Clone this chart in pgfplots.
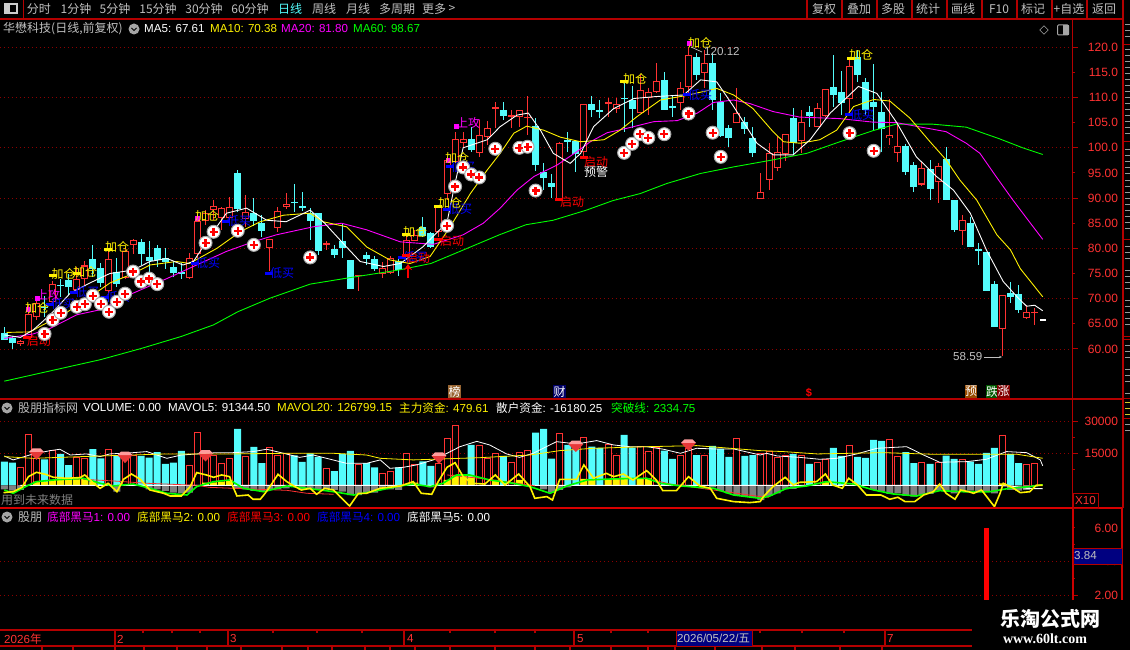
\documentclass[border=0pt]{standalone}
\usepackage{fontspec}
\setmainfont{Liberation Sans}
\newfontfamily\cjk{Noto Sans CJK SC}
\usepackage{pgfplots}
\usepackage{pgfplotstable}
\pgfplotsset{compat=1.18}
\usetikzlibrary{arrows.meta}

\definecolor{upred}{HTML}{FF3232}
\definecolor{downcy}{HTML}{54FCFC}
\definecolor{axred}{HTML}{B40000}
\definecolor{gridred}{HTML}{8C0000}
\definecolor{txt}{HTML}{C0C0C0}
\definecolor{ma20}{HTML}{FF00FF}
\definecolor{ma60}{HTML}{00FF00}
\definecolor{gemred}{HTML}{E83838}
\definecolor{gempink}{HTML}{FF9C9C}

% candles: index, body top, body bottom, high, low
\pgfplotstableread{
i top bot h l
2 61.6 61.0 61.8 60.5
3 67.0 62.1 68.7 62.1
4 69.1 66.3 70.4 65.8
6 72.9 69.4 73.5 68.7
9 74.0 71.7 76.4 71.1
10 76.6 74.0 77.5 72.7
13 77.8 71.6 79.7 70.7
15 79.5 74.2 80.0 74.0
16 81.7 80.7 81.8 78.9
23 78.0 74.2 79.0 74.0
24 85.4 78.9 87.0 78.0
25 87.0 85.5 87.6 84.7
26 88.5 87.6 89.6 85.6
27 88.0 86.0 88.3 83.7
28 88.3 86.0 90.3 85.6
30 87.3 85.8 90.6 84.3
33 81.9 80.0 81.9 75.6
34 87.5 84.1 88.3 83.3
35 88.9 88.3 91.1 87.9
40 81.0 80.7 81.5 79.7
44 74.8 74.6 74.8 71.6
47 76.2 74.9 77.2 74.2
48 78.0 75.2 78.4 75.0
50 81.7 78.7 82.7 78.7
51 82.7 81.5 83.7 81.5
54 88.3 83.2 88.6 82.3
55 97.6 90.9 97.9 89.6
56 101.7 97.2 103.2 96.9
57 101.7 100.9 103.2 99.9
59 102.5 98.9 105.5 98.2
60 104.0 102.1 105.4 100.6
61 108.2 107.8 109.2 104.0
63 106.5 106.1 107.5 103.9
64 107.5 106.1 107.5 104.2
65 106.2 105.9 110.3 102.5
69 100.9 89.8 101.2 89.8
72 108.7 99.2 108.7 97.7
75 109.2 108.8 109.8 106.2
76 108.7 107.8 109.8 106.9
79 111.5 107.0 114.5 106.9
80 111.0 109.8 111.8 106.5
81 113.2 111.0 116.8 110.9
84 111.8 109.0 113.1 107.5
85 118.5 112.0 120.12 110.5
87 116.8 114.8 119.5 111.8
91 106.9 105.0 111.8 104.9
94 91.3 89.8 94.9 89.8
95 98.9 93.5 100.9 91.6
96 99.2 95.9 102.3 95.3
97 102.7 98.7 102.7 97.4
99 105.1 101.4 107.6 98.9
101 108.0 104.2 109.0 104.2
102 111.6 106.4 111.6 106.2
105 116.2 109.6 118.1 107.2
110 102.5 101.9 109.6 100.6
111 100.3 99.0 104.9 97.2
114 95.9 92.7 97.1 92.4
116 96.3 93.1 96.9 89.0
119 85.6 83.5 86.6 80.7
124 70.7 63.9 70.7 58.59
127 67.3 66.1 68.7 66.0
128 67.4 67.2 68.1 64.8
}\candlesup

\pgfplotstableread{
i top bot h l
0 63.2 61.7 64.3 61.7
1 62.1 61.1 62.6 60.0
5 68.4 68.2 70.5 66.4
7 72.8 72.6 74.0 70.4
8 73.7 72.3 75.0 70.7
11 77.9 76.0 80.7 74.4
12 76.1 73.1 77.0 72.4
14 75.4 72.9 78.0 72.4
17 81.3 78.9 81.9 76.7
18 78.2 77.5 81.5 75.4
19 80.0 77.7 80.7 76.4
20 78.0 77.2 80.0 76.0
21 76.3 75.2 77.4 74.4
22 75.3 75.1 77.0 74.0
29 94.9 87.8 95.6 87.3
31 87.0 85.5 90.0 84.5
32 85.0 83.5 86.6 82.2
36 89.3 89.1 92.8 87.3
37 88.4 88.2 91.2 87.4
38 87.0 85.5 88.0 81.7
39 87.0 79.4 87.0 78.7
41 79.8 78.6 80.7 78.0
42 81.5 80.1 84.9 78.0
43 77.7 72.0 77.7 72.0
45 78.7 77.9 79.2 76.7
46 77.8 76.0 78.5 75.6
49 77.4 75.7 78.0 74.5
52 84.3 82.4 86.3 82.3
53 83.0 80.3 83.3 80.0
58 101.7 99.6 104.2 99.2
62 107.5 106.3 109.2 105.6
66 104.3 96.6 105.9 95.3
67 95.1 93.9 96.9 91.6
68 92.9 92.3 94.8 90.0
70 101.5 101.3 103.2 99.2
71 101.4 98.8 101.6 95.1
73 108.8 107.5 110.2 106.1
74 107.5 107.3 109.5 105.9
77 109.9 109.7 113.1 103.2
78 109.5 107.8 112.2 103.9
82 113.5 107.6 115.0 107.5
83 108.3 108.1 110.2 106.1
86 118.1 114.5 118.8 113.5
88 116.9 109.5 118.8 107.5
89 109.1 102.3 110.9 102.2
90 103.9 101.9 104.5 100.1
92 105.1 103.7 106.2 102.7
93 101.9 99.0 104.1 98.2
98 105.9 100.9 108.0 98.6
100 107.1 106.3 108.3 104.2
103 112.0 110.4 118.5 108.2
104 111.1 108.9 115.3 106.5
106 118.0 114.5 119.4 113.1
107 113.1 107.5 113.8 106.5
108 109.1 108.2 116.7 103.5
109 107.1 103.7 111.0 99.2
112 100.4 95.1 100.8 94.6
113 96.6 92.3 97.1 91.3
115 95.8 91.8 97.6 89.6
117 97.8 89.6 100.1 89.6
118 89.6 83.7 89.6 83.3
120 85.0 80.3 86.3 80.2
121 79.8 79.6 81.0 76.7
122 79.2 71.5 79.2 71.5
123 72.9 64.4 73.5 64.4
125 71.1 70.3 73.3 69.2
126 70.9 67.8 72.7 67.2
}\candlesdown

\pgfplotstableread{
i v
5 63.0
6 65.8
7 67.2
9 68.4
10 68.9
11 70.6
12 69.0
13 67.4
14 69.4
15 71.0
16 75.4
17 73.4
18 74.0
19 72.9
25 81.1
26 83.3
29 83.5
31 80.7
38 78.2
55 84.5
56 92.3
57 96.1
58 94.7
59 94.1
61 99.8
64 100.0
65 100.2
66 91.5
77 99.0
78 100.8
79 102.7
80 102.0
82 102.7
85 106.8
88 103.0
89 98.2
105 102.9
108 99.4
}\buysig

% volume bars
\pgfplotstableread{
i v
2 8400
3 23900
4 12700
6 16250
9 13000
10 12650
13 16550
15 11900
16 13750
23 9500
24 24850
25 14700
26 14200
27 10300
28 12650
30 13600
33 17800
34 14200
35 14700
40 8000
44 9850
47 5600
48 6700
50 14700
51 9850
54 10300
55 22050
56 28100
57 5150
59 18450
60 12350
61 14700
63 10800
64 15600
65 16100
69 24400
72 22500
75 18900
76 13750
79 18100
80 15950
81 17500
84 13750
85 17350
87 13750
91 22050
94 14700
95 15800
96 13100
97 13750
99 13900
101 10800
102 11900
105 18750
110 21550
111 13600
114 10800
116 10800
119 12200
124 23450
127 9850
128 10300
}\volup

\pgfplotstableread{
i v
0 11100
1 10600
5 12200
7 14700
8 9500
11 17000
12 12650
14 14200
17 13750
18 13000
19 15600
20 10000
21 10600
22 16100
29 26400
31 18000
32 10450
36 14050
37 10950
38 15000
39 13300
41 6700
42 14700
43 16100
45 10450
46 8450
49 8450
52 11250
53 9050
58 18900
62 13750
66 24700
67 26400
68 12500
70 18900
71 17350
73 18100
74 17500
77 23600
78 17650
82 16250
83 12350
86 14200
88 18450
89 17050
90 13300
92 13750
93 14200
98 14700
100 10000
103 17500
104 13750
106 13300
107 12800
108 21250
109 20800
112 15600
113 10450
115 10000
117 13900
118 12350
120 11100
121 10000
122 15150
123 17500
125 14700
126 10450
}\voldown

\pgfplotsset{
  panel/.style={
    scale only axis, width=1072.5pt,
    xmin=-0.534, xmax=132.70, xtick=\empty,
    axis x line=none, axis y line=right,
    axis line style={-, color=axred, line width=1.2pt},
    tick style={color=axred, line width=1pt},
    tick align=outside, major tick length=5pt,
    scaled y ticks=false,
    ymajorgrids,
    grid style={color=gridred, line width=.8pt, dash pattern=on 1pt off 3pt},
    yticklabel style={text=upred, font=\fontsize{12}{12}\selectfont, anchor=east, xshift=44pt},
    extra y tick style={grid=none, major tick length=2pt,
      yticklabel style={xshift=3pt}},
  },
  overlay/.style={
    scale only axis, width=1072.5pt, hide axis,
    xmin=-0.534, xmax=132.70,
  },
  wick/.style={draw=none, no marks, forget plot,
    error bars/.cd, y dir=both, y explicit,
    error mark=none, error bar style={color=#1, line width=1pt, solid}},
  body/.style 2 args={draw=none, no marks, forget plot,
    error bars/.cd, y dir=both, y explicit,
    error mark=none, error bar style={color=#1, line width=#2, solid}},
}

\pgfdeclareplotmark{gem}{%
  \pgfsetfillcolor{gemred}%
  \pgfpathmoveto{\pgfqpoint{-7.5pt}{1.5pt}}%
  \pgfpathlineto{\pgfqpoint{7.5pt}{1.5pt}}%
  \pgfpathlineto{\pgfqpoint{0pt}{-6.5pt}}%
  \pgfpathclose\pgfusepathqfill
  \pgfsetfillcolor{gempink}%
  \pgfpathmoveto{\pgfqpoint{-7.5pt}{1.5pt}}%
  \pgfpathlineto{\pgfqpoint{-4pt}{5pt}}%
  \pgfpathlineto{\pgfqpoint{4pt}{5pt}}%
  \pgfpathlineto{\pgfqpoint{7.5pt}{1.5pt}}%
  \pgfpathclose\pgfusepathqfill
}

% 1 unit of the picture is one pixel of the reference, y running down
\newcommand{\tx}[4]{\node[text=#3, inner sep=0pt, font=\fontsize{12}{12}\selectfont\cjk] at (#1pt,-#2pt) {#4};}
\newcommand{\ltx}[4]{\node[text=#3, inner sep=0pt, anchor=west, font=\fontsize{11.6}{12}\selectfont] at (#1pt,-#2pt) {#4};}
\newcommand{\dsh}[3]{\fill[#3] (#1pt-4pt,-#2pt-1.5pt) rectangle (#1pt+4pt,-#2pt+1.5pt);}
\newcommand{\sq}[3]{\fill[#3] (#1pt-2.5pt,-#2pt-2.5pt) rectangle (#1pt+2.5pt,-#2pt+2.5pt);}
\newcommand{\arrowicon}[2]{\fill[gray!70] (#1pt,-#2pt) circle (5.5pt);
  \draw[black, line width=.9pt] (#1pt-2.5pt,-#2pt+1pt) -- (#1pt,-#2pt-1.5pt) -- (#1pt+2.5pt,-#2pt+1pt);}
\newcommand{\jc}[4]{\dsh{#1}{#2}{yellow}\tx{#3}{#4}{yellow}{加仓}}
\newcommand{\jcm}[4]{\sq{#1}{#2}{ma20}\tx{#3}{#4}{yellow}{加仓}}
\newcommand{\dm}[2]{\dsh{\the\numexpr#1-13\relax}{#2}{blue}\tx{#1}{#2}{blue}{低买}}
\newcommand{\qd}[4]{\dsh{#1}{#2}{red}\tx{#3}{#4}{red}{启动}}

\begin{document}
\begin{tikzpicture}[x=1pt, y=1pt]
\fill[black] (0pt,0pt) rectangle (1130pt,-650pt);
\path[use as bounding box] (0pt,0pt) rectangle (1130pt,-650pt);

% price panel
\begin{axis}[panel, at={(0pt,-399pt)}, anchor=south west, height=380pt,
    ymin=50.06, ymax=125.6,
    ytick={60,70,80,90,100,110,120},
    yticklabels={60.00,70.00,80.00,90.00,100.0,110.0,120.0},
    extra y ticks={65,75,85,95,105,115},
    extra y tick labels={65.00,75.00,85.00,95.00,105.0,115.0},
  ]
  \addplot[wick=upred] table[x=i, y expr=(\thisrow{h}+\thisrow{l})/2, y error expr=(\thisrow{h}-\thisrow{l})/2] {\candlesup};
  \addplot[wick=downcy] table[x=i, y expr=(\thisrow{h}+\thisrow{l})/2, y error expr=(\thisrow{h}-\thisrow{l})/2] {\candlesdown};
  \addplot[body={downcy}{7pt}] table[x=i, y expr=(\thisrow{top}+\thisrow{bot})/2, y error expr=(\thisrow{top}-\thisrow{bot})/2] {\candlesdown};
  \addplot[body={upred}{7pt}] table[x=i, y expr=(\thisrow{top}+\thisrow{bot})/2, y error expr=(\thisrow{top}-\thisrow{bot})/2] {\candlesup};
  \addplot[body={black}{5pt}] table[x=i, y expr=(\thisrow{top}+\thisrow{bot})/2, y error expr={max((\thisrow{top}-\thisrow{bot})/2-0.2,0)}] {\candlesup};
  % last day, no trade yet
  \addplot[body={white}{6pt}] coordinates {(129,65.8) +- (0,0.1)};

  % MA60
  \addplot[ma60, line width=.9pt] coordinates {
    (0,53.6)(12,57.9)(17,60.1)(22,62.5)(26,64.8)(29,67.4)(33,70.1)(38,72.9)(43,74.2)(49,75.7)(53,77)
    (56.6,79.4)(61.5,82.7)(64.8,84.7)(68.2,85.6)(72.3,87.6)(75.6,89.5)(79,90.9)(82.3,92.9)(86.5,94.9)
    (90.6,96.2)(95.5,97.6)(99.7,98.9)(103.8,101.2)(107.9,103.4)(110.8,104.7)(115.3,104.7)(119.5,104.1)
    (123.6,101.8)(126.5,100.0)(129,98.67)};
  % MA20
  \addplot[ma20, line width=.9pt] coordinates {
    (0,62.1)(3.6,63.0)(5.7,64.1)(9,66.8)(11.9,67.8)(16,71.1)(20.2,74)(24.3,77)(27.6,79.4)(30.9,81.3)
    (33.8,82.7)(38.4,84.3)(41.9,85)(45,83.7)(49.2,81.3)(53.3,80.8)(57,82.7)(59.5,85)(61.6,88)(63.7,91.6)
    (65.8,94.3)(68.7,96.6)(71.1,99.2)(72.8,101.2)(74.9,103)(77.4,103.9)(80.7,105.2)(83.6,105.4)(86.1,106.9)
    (88.1,109)(90.6,109.5)(92.6,108.8)(95.5,107.2)(98.8,106.1)(103.8,105.8)(107.9,105.1)(110.8,105)
    (114.6,103.9)(117,103.2)(119.5,100.9)(121.2,98.9)(123.2,94.3)(125.3,89.6)(127,86)(129,81.8)};
  % MA10
  \addplot[yellow, line width=.9pt] coordinates {
    (0.3,63.3)(3.2,63.4)(4.8,64.8)(7.3,66.8)(9.8,69.4)(13.1,73.1)(16,75)(18.1,76.7)(21.4,77.4)(23,77)
    (26.4,80)(29.3,83.3)(31.8,85.3)(34.7,86.6)(38,87)(39.6,85.3)(42.5,84.3)(45,80.3)(47.9,77.7)(50.4,77)
    (52.9,78.4)(55.4,84.3)(57.9,90.9)(60,95.6)(61.6,98.9)(63.3,102.9)(64.9,104.3)(67,103.5)(69.1,102.1)
    (71.6,101.2)(74.5,101.6)(76.5,103.5)(78.6,106.2)(81.5,109.5)(84.4,110.3)(86.9,111.2)(88.5,111.8)
    (90.6,110.5)(93,107.8)(95.5,103.2)(96.8,101.2)(98.9,100.9)(101.3,101.6)(103.4,103.5)(105.5,108.2)
    (108,109.6)(110,109.3)(112.5,105.9)(115,101.2)(117,97.6)(118.7,93.6)(120.8,89.6)(123.3,82.7)(125,79.7)
    (126.2,76)(129,70.38)};
  % MA5
  \addplot[white, line width=.9pt] coordinates {
    (0,62.8)(2,62.3)(3.6,63.8)(5.7,66.8)(8.2,71.1)(10.6,73.1)(13.1,75)(16,75.7)(18.1,77.4)(20.2,78)
    (22.2,76.7)(23.5,77.4)(25.5,82.3)(27.6,87)(30.1,88)(32.6,85.6)(35,85.3)(38,87.6)(39.8,85)(42.5,80.3)
    (44.2,77.4)(47.1,76.4)(49.2,77)(52,80.3)(55,85.2)(56,93)(57,100)(60,101.6)(61.6,104.2)(63.7,106.5)
    (65.1,106.9)(66.6,103.5)(68.2,98.9)(70.3,96.9)(71.6,98.9)(73.2,104.2)(75.7,107.8)(78.2,109.8)(81.1,110.2)
    (84.4,110.5)(86.5,113.5)(88.5,113.1)(90.6,108.2)(93.5,100.9)(95.5,98.6)(98,98.6)(100.1,101.6)(102.6,106.9)
    (105,110.5)(106.1,112.2)(108.4,110.8)(110.9,104.9)(113.3,98.2)(115.8,94.3)(117.9,91.6)(120,87)(122,79.7)
    (124.1,73.4)(125.8,70.4)(127,68.5)(128,68.7)(129,67.61)};
\end{axis}

% signal labels on the price panel
\sq{37}{298}{ma20}\tx{48}{295}{ma20}{上攻}
\sq{456}{127}{ma20}\tx{468}{123}{ma20}{上攻}
\dm{63}{304}\dm{87}{292}\dm{118}{297}\dm{239}{221}\dm{208}{263}\dm{282}{273}
\dm{415}{257}\dm{460}{209}\dm{463}{167}\dm{700}{95}\dm{862}{115}
\jc{52.5}{275.5}{63.5}{274}
\jc{108}{249.5}{117}{247}
\jc{76.5}{273}{85}{272}
\jcm{28.3}{309}{37}{308}
\jcm{197.3}{218}{207}{216}
\jc{406}{234}{415}{232}
\jc{438}{206.5}{450}{203}
\jcm{448}{161}{457}{158}
\jc{624}{82}{635}{79}
\jcm{689}{44}{700}{43}
\jc{851}{59}{861}{55}
\qd{27}{337}{39}{341}
\qd{406}{255}{418}{258}
\qd{438}{239}{452}{241}
\qd{559}{199}{572}{202}
\qd{584}{158}{596}{162}
\tx{596}{172}{white}{预警}
\draw[red, line width=2pt, -{Stealth[length=6pt, width=8pt]}] (408pt,-278pt) -- (408pt,-264pt);
\ltx{704}{52}{txt}{120.12}
\draw[txt, line width=.7pt] (691pt,-47pt) -- (702pt,-52pt);
\ltx{953}{357}{txt}{58.59}
\draw[txt, line width=.7pt, -{Stealth[length=3pt]}] (984pt,-357pt) -- (1002pt,-357pt);

% buy signals sit on everything else
\begin{axis}[overlay, at={(0pt,-399pt)}, anchor=south west, height=380pt,
    ymin=50.06, ymax=125.6]
  \addplot[only marks, mark=*, mark size=6.5pt, mark options={fill=white, draw=gray!70, line width=1pt}] table[x=i, y=v] {\buysig};
  \addplot[only marks, mark=+, mark size=4pt, mark options={draw=red, line width=2.2pt}] table[x=i, y=v] {\buysig};
\end{axis}

% volume panel
\begin{axis}[panel, at={(0pt,-508pt)}, anchor=south west, height=109pt,
    ymin=-10641, ymax=40453,
    ytick={15000,30000}, yticklabels={15000,30000},
    extra y ticks={7500,22500}, extra y tick labels={},
  ]
  \addplot[ybar, bar shift=0pt, bar width=7pt, fill=downcy, draw=none] table[x=i, y=v] {\voldown};
  \addplot[ybar, bar shift=0pt, bar width=6pt, fill=black, draw=upred, line width=1pt] table[x=i, y=v] {\volup};
  % gray: falling main funds
  \addplot[ybar, bar shift=0pt, bar width=7pt, fill=gray, draw=none] coordinates {
    (0,-1900)(1,-2500)(2,-2200)(14,-3000)(18,-1900)(19,-1900)(20,-2650)(21,-3450)(22,-3750)(23,-3450)
    (29,-1400)(30,-1900)(31,-2650)(32,-2650)(33,-2200)(34,-1900)(35,-1400)(37,-2200)(38,-1900)(39,-2200)
    (40,-1900)(41,-2200)(42,-3000)(43,-4550)(44,-4550)(45,-3450)(46,-3450)(47,-1900)(48,-1900)(49,-2200)
    (53,-950)(67,-1900)(68,-3450)(69,-2200)(70,-950)(88,-950)(89,-2650)(90,-3750)(91,-4550)(92,-5300)
    (93,-5800)(94,-6900)(95,-5000)(96,-3750)(97,-1900)(98,-1700)(108,-2200)(109,-3000)(110,-4050)(111,-3750)
    (112,-5000)(113,-5300)(114,-4550)(115,-4050)(116,-2500)(117,-3000)(118,-3750)(119,-2500)(120,-2500)
    (121,-3000)(122,-3000)(123,-3750)(125,-2200)(126,-2500)(127,-2200)(128,-600)};
  % yellow: rising main funds
  \addplot[ybar, bar shift=0pt, bar width=7pt, fill=yellow, draw=none] coordinates {
    (4,1700)(5,1700)(6,2500)(7,2500)(8,2500)(9,2800)(10,3000)(11,1700)(25,1250)(26,1400)(27,1700)(28,2200)
    (51,1250)(55,2500)(56,4850)(57,4850)(58,4050)(61,2500)(64,2500)(72,3000)(73,2800)(75,2800)(76,3300)
    (77,3750)(79,3000)(80,3300)(102,1700)(124,950)};
  % retail funds
  \addplot[white, line width=1pt] coordinates {(2,0)(122,0)(125,-300)(127,-1400)(129,-1618)};
  % MAVOL5
  \addplot[white, line width=.8pt] coordinates {
    (0,13750)(1.1,11900)(3.6,14700)(5.7,16250)(6.9,16900)(8.2,14200)(10.2,14700)(11.9,13450)(13.1,14700)
    (16,15300)(17.7,15800)(20.2,12650)(22,14200)(23.9,14700)(26.4,15300)(28.4,15300)(30.9,15800)(32.6,16900)
    (34.7,15000)(36.7,13100)(38.4,14200)(40.5,12200)(42.5,10300)(45,10300)(46.7,11900)(47.9,7950)(49.6,8450)
    (51.2,9550)(53.3,11900)(55,15000)(56.6,18100)(58.7,20600)(60.3,18900)(62.4,14700)(64,13100)(65.7,15000)
    (68.6,20450)(71.1,19400)(73.6,20950)(75.7,18900)(77.7,18100)(79.8,18100)(81.9,16900)(84,15000)(86,17350)
    (88.1,17050)(90.6,17050)(93.9,14200)(94.7,15000)(96,13750)(98.8,13100)(101.3,12200)(103.4,12650)(105.9,14700)
    (108.4,17350)(112.1,18100)(114.2,14200)(116.2,10800)(119.6,11100)(122,12200)(124.5,15800)(127,15300)
    (128.7,11900)(129,9134)};
  % MAVOL20
  \addplot[yellow, line width=.8pt] coordinates {
    (0,13450)(3.6,12650)(11.9,13750)(20.2,14700)(28.4,14700)(34.7,15000)(40.9,15000)(45,14200)(46.7,12650)
    (50.8,11900)(59.1,12950)(65.3,14200)(69,16250)(73.2,17350)(79.8,18100)(86,18600)(90.2,17350)(93.9,16250)
    (96.8,15800)(101,14700)(109.2,15300)(115.4,14550)(125.8,14550)(129,12680)};
  % red stepped line
  \addplot[upred, line width=.8pt, unbounded coords=jump] coordinates {
    (9.8,2800)(13.5,2050)(17.7,950)(23.9,0)(25.5,-950)(28.4,-1400)(35.1,-2350)(37.6,-3750)(40.9,-4200)
    (inf,0)(55,4850)(59,3300)(63.2,1250)(65.9,-300)
    (inf,0)(80.6,2500)(82.7,600)(88.1,-2200)(93.9,-5300)(95,-5600)};
  % breakout line
  \addplot[ma60, line width=1.6pt] coordinates {
    (0,-2200)(1.1,-3750)(2.8,-300)(4,1700)(6.1,2500)(9.8,3300)(11.9,950)(13.5,-300)(16,600)(18.1,-1400)(20.2,-3750)
    (22.7,-4550)(23.9,-600)(26,1700)(28,2500)(29.7,-1400)(32.2,-3000)(35.1,-300)(37.6,-1400)(40.9,-3000)(43.4,-4550)
    (46.7,-2200)(49.2,-300)(50.8,600)(52.9,-600)(54.5,950)(56.2,4850)(57.8,4850)(60.3,2500)(63.2,950)(65.3,-600)
    (67.8,-3750)(69.9,-300)(72.4,2500)(75.7,3000)(79.8,3300)(81.5,950)(84,-300)(88.1,-1400)(90.6,-4550)(93.9,-6100)
    (95.1,-5000)(97.2,-1400)(99.7,-300)(102.1,1700)(105.5,600)(108,-2200)(110.4,-4050)(113.3,-5000)(116.2,-2500)
    (119.1,-3000)(122.4,-3000)(124.9,-1400)(127.4,-600)(129,234)};
  % main funds
  \addplot[yellow, line width=1.6pt] coordinates {
    (-0.1,-3450)(1.1,-3000)(2.2,-950)(3,4050)(4,6100)(5.1,5150)(6.1,3750)(7.7,3300)(9.4,3600)(10,4850)(11.1,950)
    (11.9,-1400)(12.9,950)(14,-3000)(14.8,2800)(15.8,5300)(16.9,2800)(17.7,-600)(18.1,-2200)(19.8,-3750)(20.6,-5000)
    (22,-5000)(23.1,-600)(23.9,5950)(25.1,4850)(26,3750)(27,4850)(28,4050)(28.4,-600)(28.9,-5000)(30.3,-4550)
    (30.9,-6550)(31.8,-6550)(32.4,-3750)(33,-600)(34,5150)(35.1,1700)(36.1,-600)(36.9,-2200)(38,-1400)(38.8,-4200)
    (39.8,-1400)(40.9,-2200)(41.7,-5300)(42.9,-9700)(44,-3750)(45,-3750)(46.7,-1400)(49.2,-300)(50.8,1700)
    (51.8,-3750)(53.1,-4200)(53.9,1700)(55,8450)(56,10600)(57,4050)(58.1,950)(59.7,600)(61,4850)(62.2,150)
    (63.9,5300)(65.3,-600)(65.9,-6100)(67.4,-5300)(68.1,-6900)(69,2800)(71.1,2800)(72,9550)(73.2,3300)(74.8,5600)
    (75.7,4050)(76.9,5300)(78.1,2500)(79.8,6900)(81,2500)(81.8,-2500)(83.5,-2500)(85,4050)(86.4,-300)(87.7,-1400)
    (88.5,-6100)(90.6,-7650)(92.6,-8100)(93.9,-7650)(94.3,-5300)(95.5,-600)(97,3750)(98,150)(98.8,1400)(100.9,1700)
    (102,5300)(102.9,150)(104.1,-1400)(104.9,3300)(106,150)(107.1,-4550)(108.9,-4550)(110,-6550)(111,-5600)
    (111.9,-7650)(113.1,-7650)(114.2,-4550)(115.4,-3000)(116.2,600)(117,-3750)(118.1,-6550)(118.8,-2200)
    (119.8,-3000)(120.4,-3750)(121.4,-2200)(123,-10000)(123.7,-3750)(124.1,950)(125.4,-1400)(126.2,-3450)
    (127.4,-3000)(128.2,0)(129,48)};
  % gems
  \addplot[only marks, mark=gem] coordinates {(4,15000)(15,13450)(25,14200)(54,13100)(71,18600)(85,19200)};
\end{axis}

% signal panel
\begin{axis}[panel, at={(0pt,-600pt)}, anchor=south west, height=92pt,
    ymin=1.733, ymax=7.185,
    ytick={2,4}, yticklabels={2.00,4.00},
    extra y ticks={3,5,6}, extra y tick labels={,,6.00},
  ]
  \addplot[ybar, bar shift=0pt, bar width=5pt, fill=red, draw=none] coordinates {(122,6.0)};
\end{axis}

% frames
\begin{scope}[axred, line width=1.2pt]
  \draw (0pt,-19pt) -- (1123pt,-19pt);
  \draw (0pt,-399pt) -- (1123pt,-399pt);
  \draw (1123pt,0pt) -- (1123pt,-508pt);
  \draw (23.5pt,0pt) -- (23.5pt,-19pt);
  \foreach \x in {807,842,877,912,947,982,1017,1052,1087} \draw (\x pt,0pt) -- (\x pt,-19pt);
  \draw (0pt,-630pt) -- (972pt,-630pt);
  \draw (0pt,-646pt) -- (972pt,-646pt);
  \foreach \x in {115,228,404,574,885} \draw (\x pt,-630pt) -- (\x pt,-646pt);
  \foreach \x in {143,172,200,273,317,362,450,495,535,611,648,760,802,844} \draw (\x pt,-630pt) -- (\x pt,-633pt);
  \foreach \x in {42,73,115,144,177,207,241,282,308,332,365,390,415,450,495,535,570,611,648,675,715,762,795,840,882}
    \draw (\x pt,-646pt) -- (\x pt,-650pt);
\end{scope}
\draw[red!85!black, line width=1.8pt] (0pt,-508pt) -- (1122pt,-508pt);
\draw[red!80!black, line width=1.8pt] (1073pt,-508pt) -- (1073pt,-600pt) (1122pt,-508pt) -- (1122pt,-600pt);
\draw[axred, line width=1pt] (1073pt,-493pt) rectangle (1098pt,-508pt);
\ltx{1075}{501}{upred}{X10}
\fill[blue!50!black] (1074pt,-548pt) rectangle (1122pt,-564pt);
\draw[axred, line width=1pt] (1073pt,-548pt) rectangle (1122pt,-564pt);
\ltx{1074}{556}{txt}{3.84}

% toolbar
\fill[gray!40] (4pt,-3.5pt) rectangle (17.5pt,-14pt);
\fill[black] (10pt,-5pt) rectangle (16pt,-12.5pt);
\tx{39}{9}{txt}{分时}\tx{76}{9}{txt}{1分钟}\tx{115}{9}{txt}{5分钟}\tx{158}{9}{txt}{15分钟}
\tx{204}{9}{txt}{30分钟}\tx{250}{9}{txt}{60分钟}\tx{290}{9}{downcy}{日线}\tx{324}{9}{txt}{周线}
\tx{358}{9}{txt}{月线}\tx{397}{9}{txt}{多周期}\tx{434}{9}{txt}{更多}\tx{452}{9}{txt}{>}
\tx{824}{9}{txt}{复权}\tx{859}{9}{txt}{叠加}\tx{893}{9}{txt}{多股}\tx{928}{9}{txt}{统计}
\tx{963}{9}{txt}{画线}\tx{999}{9}{txt}{F10}\tx{1033}{9}{txt}{标记}\tx{1069}{9}{txt}{+自选}\tx{1104}{9}{txt}{返回}

% legend lines
\node[text=txt, inner sep=0pt, anchor=west, font=\fontsize{12}{12}\selectfont\cjk] at (3pt,-29pt) {华懋科技(日线,前复权)};
\arrowicon{134}{29}
\ltx{144}{29}{white}{MA5: 67.61}
\ltx{210}{29}{yellow}{MA10: 70.38}
\ltx{281}{29}{ma20}{MA20: 81.80}
\ltx{353}{29}{ma60}{MA60: 98.67}
\node[draw=gray!70, rotate=45, minimum size=6pt, inner sep=0pt, line width=.6pt] at (1044pt,-30pt) {};
\draw[gray!70, line width=1pt, rounded corners=1pt] (1057.5pt,-25pt) rectangle (1068.5pt,-35pt);
\fill[gray!70] (1063pt,-25pt) rectangle (1068.5pt,-35pt);

\arrowicon{7}{408}
\node[text=txt, inner sep=0pt, anchor=west, font=\fontsize{12}{12}\selectfont\cjk] at (18pt,-408pt) {股朋指标网};
\ltx{83}{408}{white}{VOLUME: 0.00}
\ltx{168}{408}{white}{MAVOL5: 91344.50}
\ltx{277}{408}{yellow}{MAVOL20: 126799.15}
\ltx{399}{408}{yellow}{{\cjk 主力资金}: 479.61}
\ltx{496}{408}{white}{{\cjk 散户资金}: -16180.25}
\ltx{611}{408}{ma60}{{\cjk 突破线}: 2334.75}
\node[text=gray, inner sep=0pt, anchor=west, font=\fontsize{12}{12}\selectfont\cjk] at (1pt,-500pt) {用到未来数据};

\arrowicon{7}{517}
\node[text=txt, inner sep=0pt, anchor=west, font=\fontsize{12}{12}\selectfont\cjk] at (18pt,-517pt) {股朋};
\ltx{47}{517}{ma20}{{\cjk 底部黑马}1: 0.00}
\ltx{137}{517}{yellow}{{\cjk 底部黑马}2: 0.00}
\ltx{227}{517}{red}{{\cjk 底部黑马}3: 0.00}
\ltx{317}{517}{blue}{{\cjk 底部黑马}4: 0.00}
\ltx{407}{517}{white}{{\cjk 底部黑马}5: 0.00}

% event chips above the volume panel
\newcommand{\chip}[3]{\node[fill=#2, text=white, inner sep=0pt, minimum width=12.5pt, minimum height=12.5pt,
  font=\fontsize{12}{12}\selectfont\cjk] at (#1pt,-391.5pt) {#3};}
\chip{454.5}{brown!80!black}{榜}\chip{559.5}{blue!40!black}{财}\chip{971}{orange!60!black}{预}
\chip{992}{green!35!black}{跌}\chip{1003.5}{red!50!black}{涨}
\node[text=red, inner sep=0pt, font=\bfseries\fontsize{11}{11}\selectfont] at (809pt,-393pt) {\$};

% date strip
\ltx{4}{639}{upred}{2026{\cjk 年}}
\ltx{117}{639}{upred}{2}
\ltx{230}{639}{upred}{3}
\ltx{407}{639}{upred}{4}
\ltx{577}{639}{upred}{5}
\ltx{887}{639}{upred}{7}
\fill[blue!50!black] (676pt,-631pt) rectangle (752pt,-646pt);
\draw[axred, line width=1pt] (676pt,-630pt) rectangle (752pt,-646pt);
\ltx{677}{638.5}{txt}{2026/05/22/{\cjk 五}}

% watermark
\node[text=white, inner sep=0pt, font=\bfseries\fontsize{20}{20}\selectfont\cjk] at (1050pt,-619pt) {乐淘公式网};
\node[text=white, inner sep=0pt, font=\fontsize{14}{14}\selectfont\bfseries\fontspec{Liberation Serif}] at (1045pt,-639pt) {www.60lt.com};

% cut-off side bar on the far right
\foreach \y in {25,31,37,50,56,62,68,74,80,86,92,98,104,110,116,122,128,134,150,156,162,168,174,180,186,192,198,204,210,216,222,228,246,252,258,270,276,282,288,300,306,312,318,324,345,351,357,369,375,381,393,424,430}
  \draw[gray!80, line width=1pt] (1125pt,-\y pt) -- (1130pt,-\y pt);
\foreach \y in {45,142,239,336,339,398,418} \draw[axred, line width=1pt] (1123pt,-\y pt) -- (1130pt,-\y pt);
\draw[yellow!80!black, line width=1pt] (1125pt,-402pt) -- (1130pt,-402pt) (1125pt,-408pt) -- (1130pt,-408pt) (1125pt,-414pt) -- (1130pt,-414pt);
\end{tikzpicture}
\end{document}
